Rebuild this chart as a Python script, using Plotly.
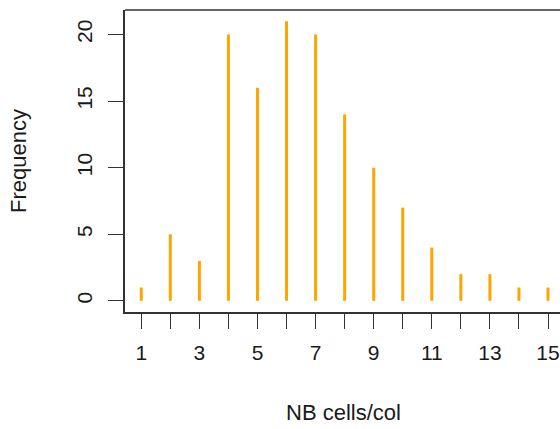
import plotly.graph_objects as go

# Counts of cells per column
cells_per_col = [1, 2, 3, 4, 5, 6, 7, 8, 9, 10, 11, 12, 13, 14, 15]
frequency = [1, 5, 3, 20, 16, 21, 20, 14, 10, 7, 4, 2, 2, 1, 1]
x_tick_labels = ["1", "", "3", "", "5", "", "7", "", "9", "", "11", "", "13", "", "15"]
y_tick_values = [0, 5, 10, 15, 20]

# Build vertical spikes (type="h" style) from the counts
xs, ys = [], []
for c, f in zip(cells_per_col, frequency):
    xs += [c, c, None]
    ys += [0, f, None]

FONT = "Liberation Sans, Arial, sans-serif"
AXIS_COL = "#333333"
TXT_COL = "#1a1a1a"
FS = 22
TICK_FS = 21

fig = go.Figure()
fig.add_trace(go.Scatter(
    x=xs, y=ys, mode="lines",
    line=dict(color="#FFA500", width=3),
    hoverinfo="skip", showlegend=False,
))

fig.update_layout(
    width=560, height=429,
    margin=dict(l=125, r=0, t=10, b=117),
    paper_bgcolor="white", plot_bgcolor="white",
    font=dict(family=FONT, size=FS, color=TXT_COL),
    xaxis=dict(
        range=[0.44, 15.413],
        tickmode="array", tickvals=cells_per_col, ticktext=x_tick_labels,
        ticks="outside", ticklen=15, tickwidth=1, tickcolor=AXIS_COL,
        showline=True, linecolor=AXIS_COL, linewidth=1.5,
        showgrid=False, zeroline=False,
        tickfont=dict(size=TICK_FS),
        ticklabelstandoff=6,
    ),
    yaxis=dict(
        range=[-0.84, 21.84],
        tickmode="array", tickvals=y_tick_values,
        ticks="outside", ticklen=15, tickwidth=1, tickcolor=AXIS_COL,
        showline=True, linecolor=AXIS_COL, linewidth=1.5,
        showgrid=False, zeroline=False,
        tickangle=-90,
        tickfont=dict(size=TICK_FS),
        ticklabelstandoff=8,
    ),
    shapes=[dict(
        type="line", xref="paper", yref="paper",
        x0=0, x1=1, y0=1, y1=1,
        line=dict(color=AXIS_COL, width=1.5),
    )],
    annotations=[
        dict(text="NB cells/col", xref="paper", yref="paper",
             x=(343 - 125) / 435, y=-(412 - 312) / 302,
             xanchor="center", yanchor="middle", showarrow=False,
             font=dict(family=FONT, size=FS, color=TXT_COL)),
        dict(text="Frequency", xref="paper", yref="paper",
             x=-(125 - 18) / 435, y=(312 - 161) / 302,
             xanchor="center", yanchor="middle", textangle=-90, showarrow=False,
             font=dict(family=FONT, size=FS, color=TXT_COL)),
    ],
)

fig.write_html("out.html")
